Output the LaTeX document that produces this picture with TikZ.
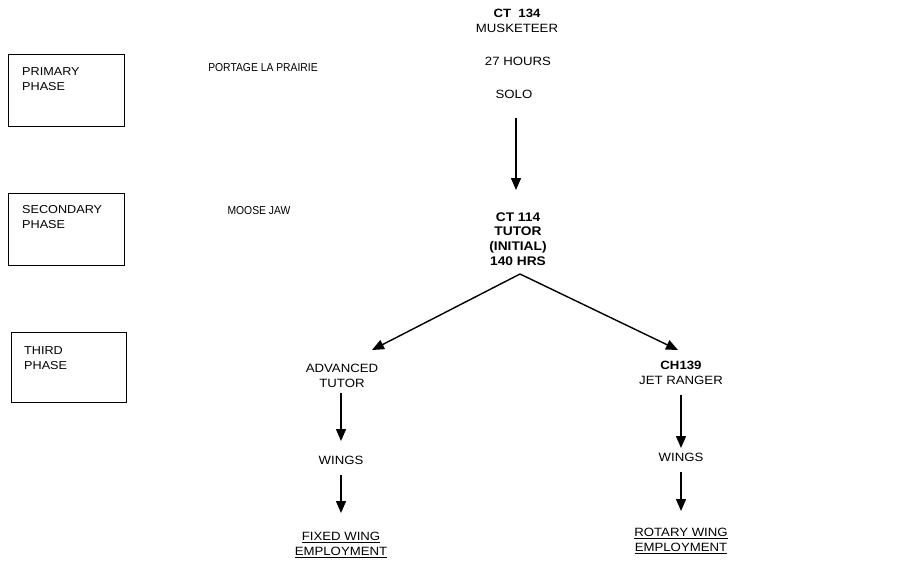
\documentclass[tikz,border=0pt]{standalone}
\usepackage{fontspec}
\setmainfont{Liberation Sans}
\newfontfamily\widesans[FakeStretch=1.1]{Liberation Sans}
\newfontfamily\narrowsans[FakeStretch=0.9]{Liberation Sans}
\usetikzlibrary{arrows.meta}
\begin{document}
\begin{tikzpicture}[x=1pt,y=-1pt,
  lbl/.style={font=\widesans\fontsize{12}{15.5}\selectfont,align=center,inner sep=1pt},
  place/.style={font=\narrowsans\fontsize{11.5}{14}\selectfont,inner sep=1pt},
  phasebox/.style={draw,line width=1pt,minimum width=116pt,minimum height=72pt,anchor=north west},
  phasetxt/.style={font=\widesans\fontsize{11.5}{15.5}\selectfont,align=left,anchor=north west,inner sep=0pt},
  arr/.style={line width=1.4pt,-{Triangle[length=12pt,width=10pt]}}]
\useasboundingbox (0,0) rectangle (912,560);
% phase boxes
\node[phasebox] (b1) at (8,54) {};
\node[phasetxt] (t1) at (22,67) {PRIMARY\\PHASE};
\node[phasebox] (b2) at (8,193) {};
\node[phasetxt] (t2) at (22,205) {SECONDARY\\PHASE};
\node[phasebox,minimum width=115pt,minimum height=70pt] (b3) at (11,332) {};
\node[phasetxt] (t3) at (24,346) {THIRD\\PHASE};
% places
\node[place] (portage) at (263,68) {PORTAGE LA PRAIRIE};
\node[place] (moose) at (259,211) {MOOSE JAW};
% centre column
\node[lbl] (ct134) at (517,21) {\textbf{CT\ \ 134}\\MUSKETEER};
\node[lbl] (hours) at (518,61) {27 HOURS};
\node[lbl] (solo) at (514,94) {SOLO};
\node[lbl,font=\widesans\fontsize{12.5}{14.8}\selectfont\bfseries] (ct114) at (518,239) {CT 114\\TUTOR\\(INITIAL)\\140 HRS};
\coordinate (apex) at (520,274);
\coordinate (soloend) at (516,118);
\draw[arr] (soloend) -- (516,190);
% left branch
\node[lbl] (adv) at (342,376) {ADVANCED\\TUTOR};
\node[lbl] (wingsL) at (341,460) {WINGS};
\node[lbl] (fixed) at (341,545) {\underline{FIXED WING}\\\underline{EMPLOYMENT}};
% right branch
\node[lbl] (ch) at (681,373) {\textbf{CH139}\\JET RANGER};
\node[lbl] (wingsR) at (681,457) {WINGS};
\node[lbl] (rotary) at (681,541) {\underline{ROTARY WING}\\\underline{EMPLOYMENT}};
\draw[arr] (apex) -- (372,350);
\draw[arr] (apex) -- (678,350);
\draw[arr] (341,393) -- (341,441);
\draw[arr] (341,475) -- (341,513);
\draw[arr] (681,395) -- (681,448);
\draw[arr] (681,472) -- (681,511);
\end{tikzpicture}
\end{document}
